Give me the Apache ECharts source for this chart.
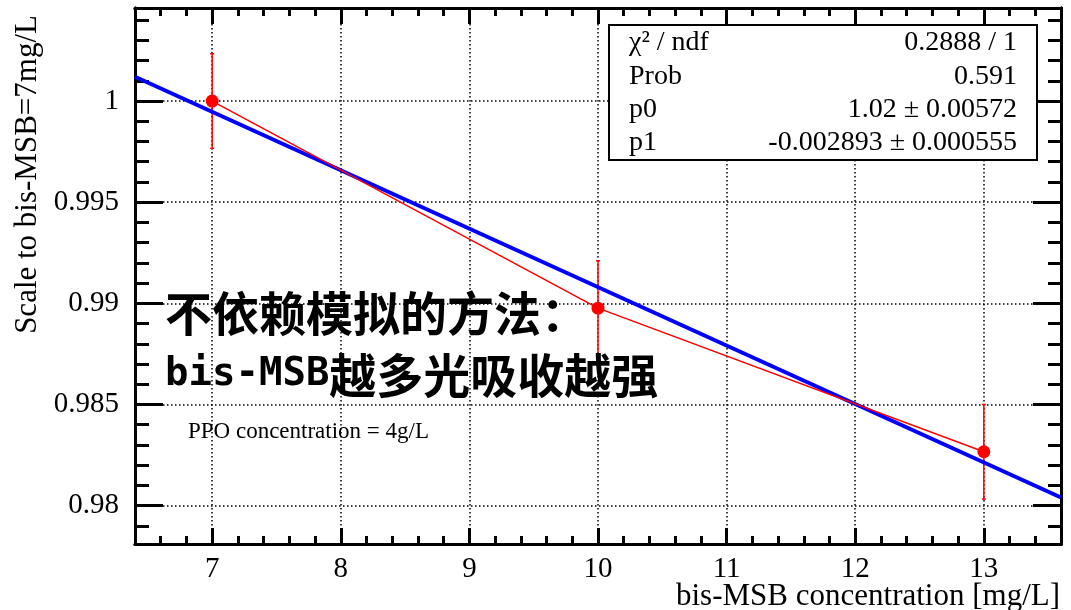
<!DOCTYPE html>
<html>
<head>
<meta charset="utf-8">
<script src="https://cdn.jsdelivr.net/npm/echarts@6.0.0/dist/echarts.min.js"></script>
<style>
html, body { margin: 0; padding: 0; background: #fff; }
#chart { width: 1071px; height: 610px; }
</style>
</head>
<body>
<div id="chart"></div>
<script>
// measured points (scale relative to 7 mg/L)
var concentration = [7, 10, 13]
var scale = [1.0000, 0.98976, 0.98266]
var scaleErr = [0.00234, 0.00234, 0.00234]
// fit line end points
var fitX = [6.4, 13.6]
var fitY = [1.0012, 0.9804]
// tick labels
var xTickLabels = [7, 8, 9, 10, 11, 12, 13]
var yTickLabels = [0.98, 0.985, 0.99, 0.995, 1]
// stats box
var statNames = ['χ² / ndf', 'Prob', 'p0', 'p1']
var statValues = ['0.2888 / 1', '0.591', '1.02 ± 0.00572', '-0.002893 ± 0.000555']

var serif = 'Liberation Serif, Times New Roman, serif'
var black = '#000'

function axis (pos, min, max, step, len, labels, grid) {
  return {
    type: 'value',
    position: pos,
    min: min,
    max: max,
    minInterval: step,
    maxInterval: step,
    axisLine: { show: true, onZero: false, lineStyle: { color: black, width: 3 } },
    axisTick: { show: true, inside: true, length: len, lineStyle: { color: black, width: 3 } },
    axisLabel: labels ? {
      show: true,
      customValues: labels,
      color: black,
      fontFamily: serif,
      fontSize: 29,
      margin: pos === 'left' ? 16 : 11
    } : { show: false },
    splitLine: {
      show: !!grid,
      lineStyle: { color: black, width: 1.5, type: [1.5, 2.5] }
    }
  }
}

var chart = echarts.init(document.getElementById('chart'), null, { renderer: 'canvas' })

var errData = concentration.map(function (x, i) { return [x, scale[i], scaleErr[i]] })

chart.setOption({
  animation: false,
  backgroundColor: '#fff',
  grid: { left: 135, right: 10, top: 8, bottom: 66, containLabel: false, outerBoundsMode: 'none' },
  xAxis: [
    axis('bottom', 6.4, 13.6, 1, 16, xTickLabels, true),
    axis('bottom', 6.4, 13.6, 0.2, 8),
    axis('top', 6.4, 13.6, 1, 16),
    axis('top', 6.4, 13.6, 0.2, 8)
  ],
  yAxis: [
    axis('left', 0.9781, 1.0046, 0.005, 28, yTickLabels, true),
    axis('left', 0.9781, 1.0046, 0.001, 14),
    axis('right', 0.9781, 1.0046, 0.005, 28),
    axis('right', 0.9781, 1.0046, 0.001, 13)
  ],
  series: [
    {
      type: 'custom',
      xAxisIndex: 0,
      yAxisIndex: 0,
      data: errData,
      encode: { x: 0, y: 1 },
      z: 3,
      renderItem: function (params, api) {
        var x = api.value(0)
        var y = api.value(1)
        var e = api.value(2)
        var top = api.coord([x, y + e])
        var bot = api.coord([x, y - e])
        var st = { stroke: '#ff0000', lineWidth: 1.5 }
        return {
          type: 'group',
          children: [
            { type: 'line', shape: { x1: top[0], y1: top[1], x2: bot[0], y2: bot[1] }, style: st },
            { type: 'line', shape: { x1: top[0] - 2, y1: top[1], x2: top[0] + 2, y2: top[1] }, style: st },
            { type: 'line', shape: { x1: bot[0] - 2, y1: bot[1], x2: bot[0] + 2, y2: bot[1] }, style: st }
          ]
        }
      }
    },
    {
      type: 'line',
      xAxisIndex: 0,
      yAxisIndex: 0,
      data: concentration.map(function (x, i) { return [x, scale[i]] }),
      symbol: 'circle',
      symbolSize: 13,
      itemStyle: { color: '#ff0000' },
      lineStyle: { color: '#ff0000', width: 1.5 },
      z: 4
    },
    {
      type: 'line',
      xAxisIndex: 0,
      yAxisIndex: 0,
      data: fitX.map(function (x, i) { return [x, fitY[i]] }),
      showSymbol: false,
      symbol: 'none',
      lineStyle: { color: '#0000ff', width: 4 },
      z: 3
    }
  ],
  graphic: [
    // stats box
    {
      type: 'rect',
      shape: { x: 609, y: 25, width: 428, height: 135 },
      style: { fill: '#fff', stroke: black, lineWidth: 2 },
      z: 10
    }
  ].concat(statNames.map(function (t, i) {
    return {
      type: 'text', x: 629, y: 43 + i * 33.3, z: 11,
      style: { text: t, fill: black, font: '28px ' + serif, textAlign: 'left', textVerticalAlign: 'middle' }
    }
  })).concat(statValues.map(function (t, i) {
    return {
      type: 'text', x: 1017, y: 43 + i * 33.3, z: 11,
      style: { text: t, fill: black, font: '28px ' + serif, textAlign: 'right', textVerticalAlign: 'middle' }
    }
  })).concat([
    {
      type: 'text', x: 188, y: 432, z: 11,
      style: { text: 'PPO concentration = 4g/L', fill: black, font: '23px ' + serif, textVerticalAlign: 'middle' }
    },
    {
      type: 'text', x: 1060, y: 597, z: 11,
      style: { text: 'bis-MSB concentration [mg/L]', fill: black, font: '31px ' + serif, textAlign: 'right', textVerticalAlign: 'middle' }
    },
    {
      type: 'text', x: 28, y: 15, rotation: Math.PI / 2, z: 11,
      style: { text: 'Scale to bis-MSB=7mg/L', fill: black, font: '31px ' + serif, textAlign: 'right', textVerticalAlign: 'middle' }
    },
    {
      type: 'text', x: 165, y: 313, z: 11,
      style: {
        text: '不依赖模拟的方法：',
        fill: black,
        font: 'bold 47px "Noto Sans CJK SC"',
        textVerticalAlign: 'middle'
      }
    },
    {
      type: 'text', x: 165, y: 375, z: 11,
      style: {
        text: '{a|bis-MSB}{b|越多光吸收越强}',
        textVerticalAlign: 'middle',
        rich: {
          a: { fontFamily: 'DejaVu Sans Mono', fontWeight: 'bold', fontSize: 39, fill: black, color: black },
          b: { fontFamily: 'Noto Sans CJK SC', fontWeight: 'bold', fontSize: 47, fill: black, color: black }
        }
      }
    }
  ])
})
</script>
</body>
</html>
